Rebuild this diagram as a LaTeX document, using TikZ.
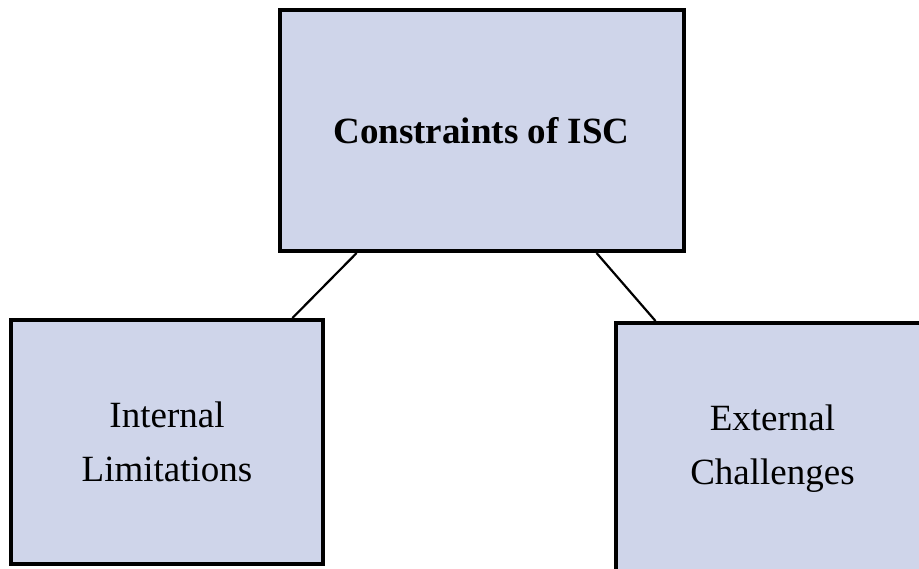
\documentclass[tikz,border=0pt]{standalone}
\usepackage{fontspec}
\setmainfont{Liberation Serif}
\usetikzlibrary{calc}
\definecolor{boxfill}{RGB}{207,213,234}
\tikzset{
  block/.style={draw=black, line width=4pt, fill=boxfill, inner sep=0pt,
    align=center, font=\fontsize{37}{54}\selectfont},
  link/.style={draw=black, line width=2.2pt}
}
\begin{document}
\begin{tikzpicture}[x=1pt, y=-1pt]
  \useasboundingbox (0,0) rectangle (919,569);
  \clip (0,0) rectangle (919,569);
  % root box
  \node[block, minimum width=404pt, minimum height=241pt, font=\fontsize{37}{54}\selectfont\bfseries]
    (root) at (481.5,130.5) {Constraints of ISC};
  % child boxes
  \node[block, minimum width=312pt, minimum height=243.5pt]
    (internal) at (167,441.75) {Internal\\Limitations};
  \node[block, minimum width=313pt, minimum height=252pt]
    (external) at (772.5,449) {External\\Challenges};
  % connectors
  \draw[link] ($(root.south west)!0.194!(root.south east)$) --
              ($(internal.north west)!0.897!(internal.north east)$);
  \draw[link] ($(root.south west)!0.782!(root.south east)$) --
              ($(external.north west)!0.131!(external.north east)$);
\end{tikzpicture}
\end{document}
